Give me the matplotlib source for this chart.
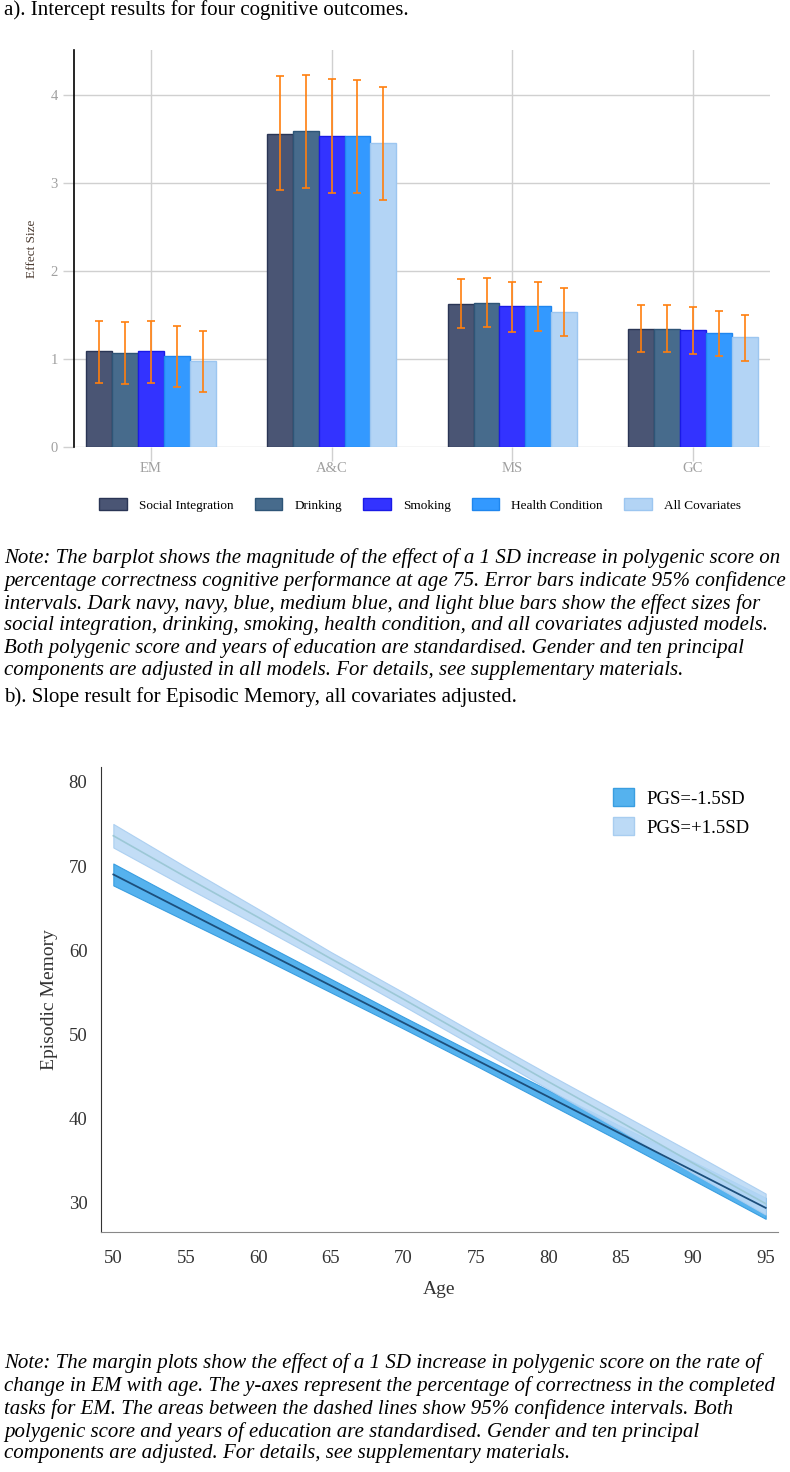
# Intercept bar chart + slope margin plot for episodic memory

import matplotlib.pyplot as plt
import numpy as np
from matplotlib.patches import Patch

plt.rcParams['font.family'] = ['Liberation Serif', 'DejaVu Serif']

W, H = 790, 1472

# ---- panel a data ----
outcomes = ['EM', 'A&C', 'MS', 'GC']
models = ['Social Integration', 'Drinking', 'Smoking', 'Health Condition', 'All Covariates']
estimates = [
    [1.09, 3.56, 1.63, 1.34],
    [1.07, 3.59, 1.64, 1.34],
    [1.09, 3.53, 1.60, 1.33],
    [1.03, 3.53, 1.60, 1.29],
    [0.98, 3.45, 1.53, 1.25],
]
ci_low = [
    [0.73, 2.92, 1.35, 1.08],
    [0.72, 2.94, 1.36, 1.08],
    [0.73, 2.89, 1.31, 1.06],
    [0.68, 2.89, 1.32, 1.03],
    [0.63, 2.81, 1.26, 0.98],
]
ci_high = [
    [1.43, 4.22, 1.91, 1.61],
    [1.42, 4.23, 1.92, 1.61],
    [1.43, 4.18, 1.88, 1.59],
    [1.37, 4.17, 1.88, 1.55],
    [1.32, 4.09, 1.81, 1.50],
]
bar_colors = ['#4a5574', '#476b8c', '#3333ff', '#3399ff', '#b3d4f5']
edge_colors = ['#2a3555', '#2e5577', '#1a1ae6', '#1f86ee', '#9cc6f0']

# ---- panel b data ----
ages = [50, 55, 60, 65, 70, 75, 80, 85, 90, 95]
low_fit = [69.0, 64.6, 60.2, 55.8, 51.4, 47.0, 42.6, 38.2, 33.8, 29.4]
low_lo = [67.7, 63.5, 59.3, 55.0, 50.7, 46.3, 41.8, 37.3, 32.7, 28.1]
low_hi = [70.3, 65.7, 61.1, 56.6, 52.1, 47.7, 43.4, 39.1, 34.9, 30.6]
high_fit = [73.6, 68.7, 63.9, 59.0, 54.2, 49.3, 44.4, 39.6, 34.7, 29.9]
high_lo = [72.2, 67.5, 62.9, 58.2, 53.4, 48.5, 43.5, 38.6, 33.5, 28.6]
high_hi = [75.0, 69.9, 64.9, 59.8, 55.0, 50.1, 45.3, 40.6, 35.9, 31.1]

note_a = ("Note: The barplot shows the magnitude of the effect of a 1 SD increase in polygenic score on\n"
          "percentage correctness cognitive performance at age 75. Error bars indicate 95% confidence\n"
          "intervals. Dark navy, navy, blue, medium blue, and light blue bars show the effect sizes for\n"
          "social integration, drinking, smoking, health condition, and all covariates adjusted models.\n"
          "Both polygenic score and years of education are standardised. Gender and ten principal\n"
          "components are adjusted in all models. For details, see supplementary materials.")
note_b = ("Note: The margin plots show the effect of a 1 SD increase in polygenic score on the rate of\n"
          "change in EM with age. The y-axes represent the percentage of correctness in the completed\n"
          "tasks for EM. The areas between the dashed lines show 95% confidence intervals. Both\n"
          "polygenic score and years of education are standardised. Gender and ten principal\n"
          "components are adjusted. For details, see supplementary materials.")


def box(l, t, r, b):
    return [l / W, 1 - b / H, (r - l) / W, (b - t) / H]


fig = plt.figure(figsize=(W / 100, H / 100), dpi=100)

# ---- panel a ----
ax = fig.add_axes(box(74, 50, 770, 447))
x = np.arange(len(outcomes))
bw = 0.143
for i, m in enumerate(models):
    pos = x + (i - 2) * bw
    ax.bar(pos, estimates[i], width=bw, color=bar_colors[i], edgecolor=edge_colors[i],
           linewidth=1, label=m, zorder=2)
    err = [np.array(estimates[i]) - np.array(ci_low[i]), np.array(ci_high[i]) - np.array(estimates[i])]
    ax.errorbar(pos, estimates[i], yerr=err, fmt='none', ecolor='#ff7f0e', elinewidth=1.2,
                capsize=3, capthick=1.2, zorder=3)
ax.set_xlim(-0.426, 3.426)
ax.set_ylim(0, 4.51)
ax.set_xticks(x)
ax.set_xticklabels(outcomes)
ax.set_yticks([0, 1, 2, 3, 4])
ax.grid(True, color='#d0d0d0', linewidth=1, zorder=0)
ax.set_axisbelow(True)
for s in ['top', 'right', 'bottom']:
    ax.spines[s].set_visible(False)
ax.spines['left'].set_color('black')
ax.spines['left'].set_linewidth(1.2)
ax.tick_params(axis='both', colors='#d0d0d0', labelcolor='#a0a0a0', labelsize=10.5, length=8, width=1)
ax.tick_params(axis='x', length=10, pad=1)
ax.set_ylabel('Effect Size', fontsize=9.5, color='#4a3a30', labelpad=9)
fig.legend(loc='center', bbox_to_anchor=(420 / W, 1 - 505 / H), ncol=5, frameon=False,
           fontsize=9.5, handlelength=2.1, handleheight=1.0, handletextpad=0.9, columnspacing=1.6)

# ---- panel b ----
bx = fig.add_axes(box(101.3, 766.7, 777.7, 1231.7))
bx.fill_between(ages, low_lo, low_hi, color='#55b2ee', edgecolor='#3a9ee0', linewidth=0.8, zorder=1)
bx.fill_between(ages, high_lo, high_hi, color='#bcdaf6', edgecolor='#a8cdf0', linewidth=0.8,
                alpha=0.9, zorder=2)
bx.plot(ages, high_fit, color='#9cc8d6', linewidth=1.2, zorder=3)
bx.plot(ages, low_fit, color='#1c4f7c', linewidth=1.3, zorder=4)
bx.set_xlim(49.17, 95.83)
bx.set_ylim(26.57, 81.8)
bx.set_xticks(range(50, 96, 5))
bx.set_yticks([30, 40, 50, 60, 70, 80])
for s in ['top', 'right']:
    bx.spines[s].set_visible(False)
bx.spines['left'].set_color('#333333')
bx.spines['bottom'].set_color('#888888')
bx.tick_params(axis='both', length=0, labelsize=13.5, labelcolor='#333333')
bx.tick_params(axis='y', pad=10)
bx.tick_params(axis='x', pad=13)
bx.set_xlabel('Age', fontsize=14, color='#333333', labelpad=10)
bx.set_ylabel('Episodic Memory', fontsize=14, color='#333333', labelpad=8)
handles = [Patch(facecolor='#55b2ee', edgecolor='#3a9ee0', label='PGS=-1.5SD'),
           Patch(facecolor='#bcdaf6', edgecolor='#a8cdf0', label='PGS=+1.5SD')]
bx.legend(handles=handles, loc='upper left', bbox_to_anchor=((604 - 101.3) / 676.4, (1231.7 - 779) / 465),
          frameon=False, fontsize=13.5, borderpad=0, handlelength=1.12, handleheight=1.1,
          handletextpad=0.64, labelspacing=0.5)

# ---- texts ----
fig.text(4 / W, 1 - 10 / H, 'a). Intercept results for four cognitive outcomes.', fontsize=15, va='center')
fig.text(4 / W, 1 - 697 / H, 'b). Slope result for Episodic Memory, all covariates adjusted.', fontsize=15,
         va='center')
fig.text(4 / W, 1 - 548 / H, note_a, fontsize=15, style='italic', va='top', linespacing=1.2)
fig.text(4 / W, 1 - 1353 / H, note_b, fontsize=15, style='italic', va='top', linespacing=1.2)

fig.savefig('out.png', dpi=100)
